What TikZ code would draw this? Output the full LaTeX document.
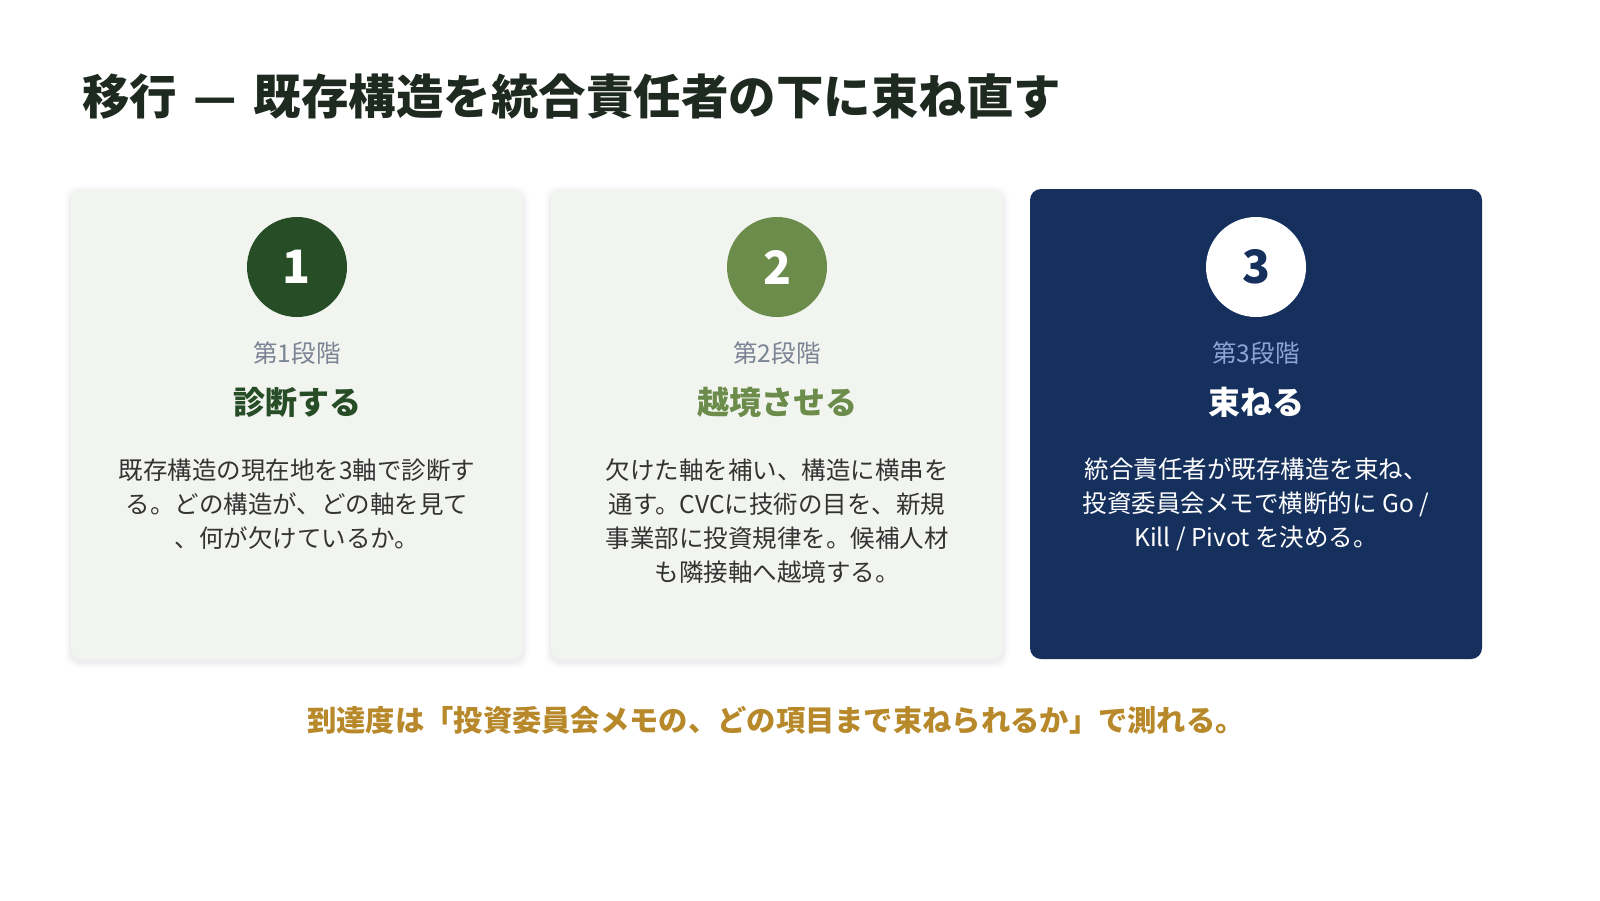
\documentclass[tikz,border=0pt]{standalone}
\usepackage{fontspec}
\setmainfont{Noto Sans CJK JP}
\definecolor{titlecol}{HTML}{1E2A20}
\definecolor{cardbg}{HTML}{F2F4F0}
\definecolor{navy}{HTML}{16305E}
\definecolor{gdark}{HTML}{264D26}
\definecolor{gmid}{HTML}{6B8C4A}
\definecolor{stagegray}{HTML}{7B8494}
\definecolor{stageblue}{HTML}{8AA5D6}
\definecolor{bodycol}{HTML}{333333}
\definecolor{gold}{HTML}{B8892B}
\tikzset{
  card/.style={minimum width=452pt, minimum height=470pt, rounded corners=11pt, inner sep=0pt},
  numcirc/.style={circle, minimum size=100pt, inner sep=0pt, font=\bfseries\fontsize{46}{46}\selectfont},
  stagelbl/.style={font=\fontsize{24.5}{24.5}\selectfont, inner sep=0pt},
  headlbl/.style={font=\bfseries\fontsize{32}{32}\selectfont, inner sep=0pt},
  bodytxt/.style={font=\fontsize{24.5}{34}\selectfont, align=center, inner sep=0pt, text=bodycol},
}
\begin{document}
\begin{tikzpicture}[x=1pt,y=-1pt]
\fill[white] (0,0) rectangle (1600,900);
\useasboundingbox (0,0) rectangle (1600,900);
% title
\node[anchor=west, inner sep=0pt, text=titlecol, font=\bfseries\fontsize{47.5}{47.5}\selectfont] (title) at (82,96) {移行\hspace{0.35em}—\hspace{0.35em}既存構造を統合責任者の下に束ね直す};
% shadows
\foreach \cx in {297,777}{
  \foreach \s/\o in {6/0.015,4/0.02,2/0.03}{
    \fill[black, opacity=\o, rounded corners=13pt] (\cx-226-\s,189-\s+3) rectangle (\cx+226+\s,659+\s+3);
  }
}
% cards
\node[card, fill=cardbg] (c1) at (297,424) {};
\node[card, fill=cardbg] (c2) at (777,424) {};
\node[card, fill=navy] (c3) at (1256,424) {};
% circles
\node[numcirc, fill=gdark, text=white] (n1) at (297,267) {1};
\node[numcirc, fill=gmid, text=white] (n2) at (777,267) {2};
\node[numcirc, fill=white, text=navy] (n3) at (1256,267) {3};
% stage labels
\node[stagelbl, text=stagegray] (s1) at (297,353) {第1段階};
\node[stagelbl, text=stagegray] (s2) at (777,353) {第2段階};
\node[stagelbl, text=stageblue] (s3) at (1256,353) {第3段階};
% headings
\node[headlbl, text=gdark] (h1) at (297,402) {診断する};
\node[headlbl, text=gmid] (h2) at (777,402) {越境させる};
\node[headlbl, text=white] (h3) at (1256,402) {束ねる};
% bodies
\node[bodytxt] (b1) at (297,504) {既存構造の現在地を3軸で診断す\\る。どの構造が、どの軸を見て\\、何が欠けているか。};
\node[bodytxt] (b2) at (777,521) {欠けた軸を補い、構造に横串を\\通す。CVCに技術の目を、新規\\事業部に投資規律を。候補人材\\も隣接軸へ越境する。};
\node[bodytxt, text=white] (b3) at (1256,504) {統合責任者が既存構造を束ね、\\投資委員会メモで横断的に Go /\\Kill / Pivot を決める。};
% bottom
\node[inner sep=0pt, text=gold, font=\bfseries\fontsize{29.3}{29.3}\selectfont] (foot) at (776,720) {到達度は「投資委員会メモの、どの項目まで束ねられるか」で測れる。};
\end{tikzpicture}
\end{document}
